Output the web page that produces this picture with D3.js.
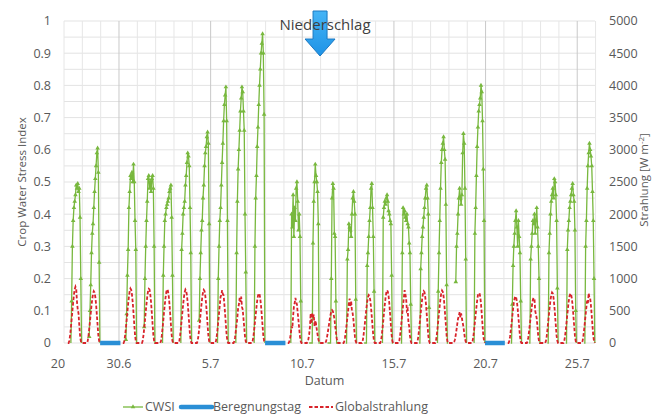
<!DOCTYPE html>
<html>
<head>
<meta charset="utf-8">
<script src="https://cdn.jsdelivr.net/npm/d3@7"></script>
<style>
    body { margin: 0; background: #fff; }
    text { font-family: "Open Sans", "Noto Sans", sans-serif; fill: #595959; }
</style>
</head>
<body>
<div id="chart"></div>
<script>
// Time is counted in days from 27.6 0:00 (left edge of the plot)
const dataDays = [0, 1, 3, 4, 5, 6, 7, 8, 9, 10, 12, 13, 14, 15, 16, 17, 18, 19, 20, 21, 22, 24, 25, 26, 27, 28];

// CWSI, hourly from 9 h to 23 h, one row per data day
const cwsiHours = [9, 10, 11, 12, 13, 14, 15, 16, 17, 18, 19, 20, 21, 22, 23];
const cwsi = [
    [0, 0.13, 0.30, 0.38, 0.42, 0.44, 0.46, 0.49, 0.48, 0.495, 0.47, 0.48, 0.39, 0.20, 0],
    [0.02, 0.10, 0.18, 0.28, 0.34, 0.37, 0.42, 0.47, 0.51, 0.55, 0.59, 0.605, 0.53, 0.25, 0],
    [0.01, 0.09, 0.21, 0.29, 0.42, 0.47, 0.52, 0.51, 0.53, 0.50, 0.555, 0.50, 0.38, 0.29, 0],
    [0.05, 0.20, 0.30, 0.38, 0.44, 0.51, 0.52, 0.48, 0.50, 0.47, 0.51, 0.52, 0.48, 0.30, 0],
    [0, 0.21, 0.30, 0.38, 0.40, 0.42, 0.43, 0.44, 0.45, 0.47, 0.48, 0.49, 0.39, 0.21, 0],
    [0, 0.29, 0.34, 0.40, 0.42, 0.44, 0.49, 0.52, 0.56, 0.59, 0.58, 0.55, 0.42, 0.28, 0],
    [0.07, 0.20, 0.28, 0.35, 0.38, 0.45, 0.49, 0.55, 0.59, 0.61, 0.64, 0.655, 0.62, 0.37, 0],
    [0, 0.20, 0.30, 0.38, 0.42, 0.49, 0.56, 0.62, 0.69, 0.74, 0.77, 0.795, 0.69, 0.38, 0],
    [0, 0.28, 0.44, 0.54, 0.60, 0.66, 0.72, 0.76, 0.795, 0.78, 0.72, 0.66, 0.40, 0.22, 0],
    [0, 0.30, 0.45, 0.52, 0.61, 0.67, 0.74, 0.80, 0.85, 0.90, 0.93, 0.96, 0.90, 0.71, 0],
    [0, 0.40, 0.36, 0.46, 0.33, 0.42, 0.38, 0.48, 0.50, 0.44, 0.35, 0.40, 0.33, 0.13, 0],
    [0, 0, 0, 0, 0, 0.31, 0.44, 0.50, 0.555, 0.52, 0.50, 0.47, 0.37, 0, 0],
    [0, 0, 0, 0, 0, 0.20, 0.45, 0.495, 0.48, 0.34, 0.33, 0.13, 0, 0, 0],
    [0, 0, 0.26, 0.29, 0.37, 0.36, 0.35, 0.33, 0.40, 0.45, 0.47, 0.44, 0.40, 0.135, 0],
    [0, 0, 0, 0, 0.24, 0.28, 0.33, 0.38, 0.42, 0.48, 0.495, 0.42, 0.33, 0.16, 0],
    [0, 0.39, 0.42, 0.44, 0.43, 0.45, 0.46, 0.44, 0.41, 0.40, 0.38, 0.37, 0.21, 0, 0],
    [0, 0, 0.28, 0.42, 0.40, 0.41, 0.39, 0.38, 0.40, 0.37, 0.36, 0.31, 0.28, 0.12, 0],
    [0, 0, 0.23, 0.28, 0.33, 0.36, 0.39, 0.42, 0.45, 0.48, 0.49, 0.45, 0.40, 0.11, 0],
    [0, 0.16, 0.28, 0.38, 0.48, 0.56, 0.60, 0.62, 0.64, 0.60, 0.57, 0.43, 0.18, 0, 0],
    [0.19, 0.30, 0.34, 0.40, 0.45, 0.48, 0.45, 0.43, 0.46, 0.59, 0.65, 0.62, 0.48, 0.26, 0],
    [0, 0.34, 0.42, 0.52, 0.61, 0.67, 0.72, 0.74, 0.76, 0.80, 0.78, 0.69, 0.54, 0.38, 0],
    [0, 0, 0.12, 0.24, 0.30, 0.34, 0.38, 0.41, 0.36, 0.30, 0.38, 0.33, 0.28, 0.13, 0],
    [0, 0, 0.26, 0.30, 0.34, 0.38, 0.37, 0.40, 0.34, 0.38, 0.42, 0.36, 0.30, 0.20, 0],
    [0, 0, 0.28, 0.34, 0.40, 0.44, 0.46, 0.48, 0.45, 0.51, 0.50, 0.46, 0.38, 0.17, 0],
    [0, 0, 0.29, 0.35, 0.38, 0.42, 0.44, 0.46, 0.48, 0.495, 0.46, 0.44, 0.35, 0.10, 0],
    [0, 0, 0.30, 0.38, 0.48, 0.55, 0.59, 0.62, 0.60, 0.58, 0.55, 0.47, 0.38, 0.20, 0]
];

// Globalstrahlung [W m-2], hourly from 5 h to 23 h
const radHours = [5, 6, 7, 8, 9, 10, 11, 12, 13, 14, 15, 16, 17, 18, 19, 20, 21, 22, 23];
const radiation = [
    [0, 0, 35, 120, 235, 365, 500, 630, 750, 835, 875, 840, 640, 520, 460, 280, 120, 30, 0],
    [0, 0, 30, 105, 215, 335, 460, 580, 685, 765, 805, 785, 715, 600, 440, 275, 115, 30, 0],
    [0, 0, 30, 115, 225, 350, 485, 610, 720, 805, 845, 825, 750, 630, 465, 290, 125, 30, 0],
    [0, 0, 30, 115, 225, 350, 485, 605, 720, 800, 840, 830, 755, 630, 465, 290, 125, 30, 0],
    [0, 0, 30, 110, 225, 345, 480, 600, 710, 795, 835, 815, 745, 620, 460, 285, 120, 30, 0],
    [0, 0, 30, 110, 225, 345, 475, 600, 710, 790, 830, 810, 740, 620, 455, 285, 120, 30, 0],
    [0, 0, 30, 110, 220, 340, 475, 595, 705, 785, 825, 805, 735, 615, 455, 280, 120, 30, 0],
    [0, 0, 30, 105, 215, 335, 465, 590, 720, 740, 820, 760, 740, 600, 450, 275, 115, 30, 0],
    [0, 0, 25, 90, 190, 290, 400, 540, 600, 700, 640, 720, 560, 520, 380, 240, 100, 25, 0],
    [0, 0, 30, 100, 205, 320, 440, 555, 660, 735, 770, 760, 690, 575, 425, 265, 110, 30, 0],
    [0, 0, 20, 70, 150, 260, 230, 420, 560, 620, 700, 640, 600, 470, 350, 220, 95, 25, 0],
    [0, 0, 15, 60, 130, 250, 460, 300, 470, 380, 440, 260, 350, 300, 210, 130, 60, 15, 0],
    [0, 0, 20, 65, 135, 210, 290, 370, 440, 490, 510, 495, 450, 380, 280, 175, 75, 20, 0],
    [0, 0, 25, 90, 180, 280, 390, 500, 620, 690, 560, 650, 500, 460, 360, 220, 95, 25, 0],
    [0, 0, 25, 100, 200, 310, 425, 540, 640, 710, 745, 730, 665, 555, 410, 255, 110, 25, 0],
    [0, 0, 30, 110, 220, 340, 470, 590, 700, 780, 820, 800, 730, 610, 450, 280, 120, 30, 0],
    [0, 0, 30, 110, 220, 340, 470, 590, 700, 820, 760, 690, 500, 520, 320, 260, 110, 30, 0],
    [0, 0, 30, 105, 215, 335, 460, 580, 685, 765, 805, 790, 715, 600, 440, 275, 115, 30, 0],
    [0, 0, 30, 110, 220, 340, 465, 585, 695, 775, 815, 795, 725, 605, 445, 280, 115, 30, 0],
    [0, 0, 20, 60, 130, 210, 300, 380, 420, 480, 400, 460, 380, 320, 250, 160, 70, 20, 0],
    [0, 0, 30, 100, 205, 320, 440, 555, 660, 745, 770, 775, 720, 610, 450, 280, 115, 30, 0],
    [0, 0, 25, 95, 195, 300, 415, 525, 625, 690, 725, 710, 645, 540, 400, 250, 105, 25, 0],
    [0, 0, 25, 90, 185, 290, 400, 510, 610, 680, 700, 690, 500, 440, 380, 240, 100, 25, 0],
    [0, 0, 30, 100, 210, 325, 445, 565, 670, 745, 785, 770, 700, 585, 430, 270, 110, 30, 0],
    [0, 0, 30, 100, 205, 320, 440, 555, 660, 735, 770, 755, 690, 575, 425, 265, 110, 30, 0],
    [0, 0, 30, 100, 205, 320, 440, 555, 660, 620, 775, 700, 690, 575, 425, 265, 110, 30, 0]
];

// Beregnungstag (irrigation days), start and end in days
const irrigationStart = [1.97, 10.97, 22.97];
const irrigationEnd = [3.08, 12.08, 24.05];

// Niederschlag arrow position (day)
const rainDay = 13.97;

// Axis ticks
const xTickDays = [-0.33, 3, 8, 13, 18, 23, 28];
const xTickLabels = ["20", "30.6", "5.7", "10.7", "15.7", "20.7", "25.7"];
const yTicks = [0, 0.1, 0.2, 0.3, 0.4, 0.5, 0.6, 0.7, 0.8, 0.9, 1];
const yTickLabels = ["0", "0.1", "0.2", "0.3", "0.4", "0.5", "0.6", "0.7", "0.8", "0.9", "1"];
const y2Ticks = [0, 500, 1000, 1500, 2000, 2500, 3000, 3500, 4000, 4500, 5000];

const W = 657, H = 415;
const margin = { top: 21, right: 62, bottom: 72, left: 64 };
const width = W - margin.left - margin.right;
const height = H - margin.top - margin.bottom;

const xScale = d3.scaleLinear().domain([0, 28.97]).range([0, width]);
const yScale = d3.scaleLinear().domain([0, 1]).range([height, 0]);
const y2Scale = d3.scaleLinear().domain([0, 5000]).range([height, 0]);

const green = "#78b83e", red = "#d8232a", blue = "#2a8fd6";

let svg = d3.select("#chart").append("svg")
    .attr("width", W).attr("height", H)
    .append("g")
    .attr("transform", `translate(${margin.left}, ${margin.top})`);

// horizontal gridlines every 0.05
svg.append("g").selectAll("line")
    .data(d3.range(0, 21).map(i => i * 0.05))
    .enter().append("line")
    .attr("x1", 0).attr("x2", width)
    .attr("y1", d => yScale(d)).attr("y2", d => yScale(d))
    .attr("stroke", "#e3e3e3").attr("stroke-width", 1);

// vertical gridlines: one per day, darker at labelled days
svg.append("g").selectAll("line")
    .data(d3.range(0, 30))
    .enter().append("line")
    .attr("x1", d => xScale(d)).attr("x2", d => xScale(d))
    .attr("y1", 0).attr("y2", height)
    .attr("stroke", d => xTickDays.includes(d) ? "#c9c9c9" : "#e6e6e6")
    .attr("stroke-width", 1);

// left axis labels
svg.append("g").selectAll("text")
    .data(yTicks)
    .enter().append("text")
    .attr("x", -13).attr("y", d => yScale(d))
    .attr("dy", "0.35em").attr("text-anchor", "end")
    .style("font-size", "12.5px")
    .text((d, i) => yTickLabels[i]);

// right axis labels
svg.append("g").selectAll("text")
    .data(y2Ticks)
    .enter().append("text")
    .attr("x", width + 14).attr("y", d => y2Scale(d))
    .attr("dy", "0.35em").attr("text-anchor", "start")
    .style("font-size", "12.5px")
    .text(d => d);

// x axis labels
svg.append("g").selectAll("text")
    .data(xTickDays)
    .enter().append("text")
    .attr("x", d => xScale(d)).attr("y", height + 21)
    .attr("dy", "0.35em").attr("text-anchor", "middle")
    .style("font-size", "12.5px")
    .text((d, i) => xTickLabels[i]);

// axis titles
svg.append("text")
    .attr("transform", `translate(${-42}, ${height / 2}) rotate(-90)`)
    .attr("text-anchor", "middle").attr("dy", "0.35em")
    .style("font-size", "11.5px")
    .text("Crop Water Stress Index");

let y2Title = svg.append("text")
    .attr("transform", `translate(${width + 49}, ${height / 2 - 2}) rotate(-90)`)
    .attr("text-anchor", "middle").attr("dy", "0.35em")
    .style("font-size", "11.5px");
y2Title.append("tspan").text("Strahlung [W m");
y2Title.append("tspan").attr("dy", "-4").style("font-size", "8px").text("-2");
y2Title.append("tspan").attr("dy", "4").text("]");

svg.append("text")
    .attr("x", width / 2 - 5).attr("y", height + 38)
    .attr("text-anchor", "middle").attr("dy", "0.35em")
    .style("font-size", "12.5px")
    .text("Datum");

// build series
let cwsiSeries = dataDays.map((day, i) =>
    cwsiHours.map((h, j) => ({ t: day + h / 24, v: cwsi[i][j] })));

// radiation: continuous runs of consecutive days
let radRuns = [];
dataDays.forEach((day, i) => {
    let pts = radHours.map((h, j) => ({ t: day + h / 24, v: radiation[i][j] }));
    if (i > 0 && day === dataDays[i - 1] + 1) {
        radRuns[radRuns.length - 1] = radRuns[radRuns.length - 1].concat(pts);
    } else {
        radRuns.push(pts);
    }
});

let cwsiLine = d3.line().x(d => xScale(d.t)).y(d => yScale(d.v));
let radLine = d3.line().x(d => xScale(d.t)).y(d => y2Scale(d.v));

// CWSI lines + triangle markers
svg.append("g").selectAll("path")
    .data(cwsiSeries)
    .enter().append("path")
    .attr("d", cwsiLine)
    .style("fill", "none")
    .attr("stroke", green).attr("stroke-width", 1.3);

let tri = d3.symbol().type(d3.symbolTriangle).size(9);
svg.append("g").selectAll("path")
    .data(cwsiSeries.flat().filter(d => d.v > 0))
    .enter().append("path")
    .attr("d", tri)
    .attr("transform", d => `translate(${xScale(d.t)}, ${yScale(d.v)})`)
    .attr("fill", green);

// Beregnungstag
svg.append("g").selectAll("line")
    .data(irrigationStart)
    .enter().append("line")
    .attr("x1", d => xScale(d))
    .attr("x2", (d, i) => xScale(irrigationEnd[i]))
    .attr("y1", yScale(0)).attr("y2", yScale(0))
    .attr("stroke", blue).attr("stroke-width", 4.5);

// Globalstrahlung
svg.append("g").selectAll("path")
    .data(radRuns)
    .enter().append("path")
    .attr("d", radLine)
    .style("fill", "none")
    .attr("stroke", red).attr("stroke-width", 1.8)
    .attr("stroke-dasharray", "3.5 2");

// Niederschlag annotation
let defs = d3.select("svg").append("defs");
let grad = defs.append("linearGradient").attr("id", "arrowGrad")
    .attr("x1", 0).attr("y1", 0).attr("x2", 0).attr("y2", 1);
grad.append("stop").attr("offset", "0%").attr("stop-color", "#45b4f6");
grad.append("stop").attr("offset", "100%").attr("stop-color", "#1e93e6");

let ax = xScale(rainDay);
let arrowPts = [[-7, 11], [7, 11], [7, 39], [15, 39], [0, 56], [-15, 39], [-7, 39]];
svg.append("path")
    .attr("d", d3.line()(arrowPts.map(p => [ax + p[0], p[1] - margin.top])) + "Z")
    .attr("fill", "url(#arrowGrad)")
    .attr("stroke", "#1a78c2").attr("stroke-width", 1);

svg.append("text")
    .attr("x", ax + 5).attr("y", 25 - margin.top)
    .attr("text-anchor", "middle").attr("dy", "0.35em")
    .style("font-size", "15px").style("fill", "#404040")
    .text("Niederschlag");

// legend
let leg = svg.append("g").attr("transform", `translate(0, ${407 - margin.top})`);
leg.append("line").attr("x1", 123 - margin.left).attr("x2", 143 - margin.left)
    .attr("stroke", green).attr("stroke-width", 1.3);
leg.append("path").attr("d", tri)
    .attr("transform", `translate(${133 - margin.left}, 0)`).attr("fill", green);
leg.append("text").attr("x", 145 - margin.left).attr("dy", "0.35em")
    .style("font-size", "12.5px").text("CWSI");

leg.append("line").attr("x1", 181 - margin.left).attr("x2", 212 - margin.left)
    .attr("stroke", blue).attr("stroke-width", 4.5).attr("stroke-linecap", "round");
leg.append("text").attr("x", 213 - margin.left).attr("dy", "0.35em")
    .style("font-size", "12.5px").text("Beregnungstag");

leg.append("line").attr("x1", 309 - margin.left).attr("x2", 333 - margin.left)
    .attr("stroke", red).attr("stroke-width", 1.8).attr("stroke-dasharray", "3.5 2");
leg.append("text").attr("x", 335 - margin.left).attr("dy", "0.35em")
    .style("font-size", "12.5px").text("Globalstrahlung");
</script>
</body>
</html>
